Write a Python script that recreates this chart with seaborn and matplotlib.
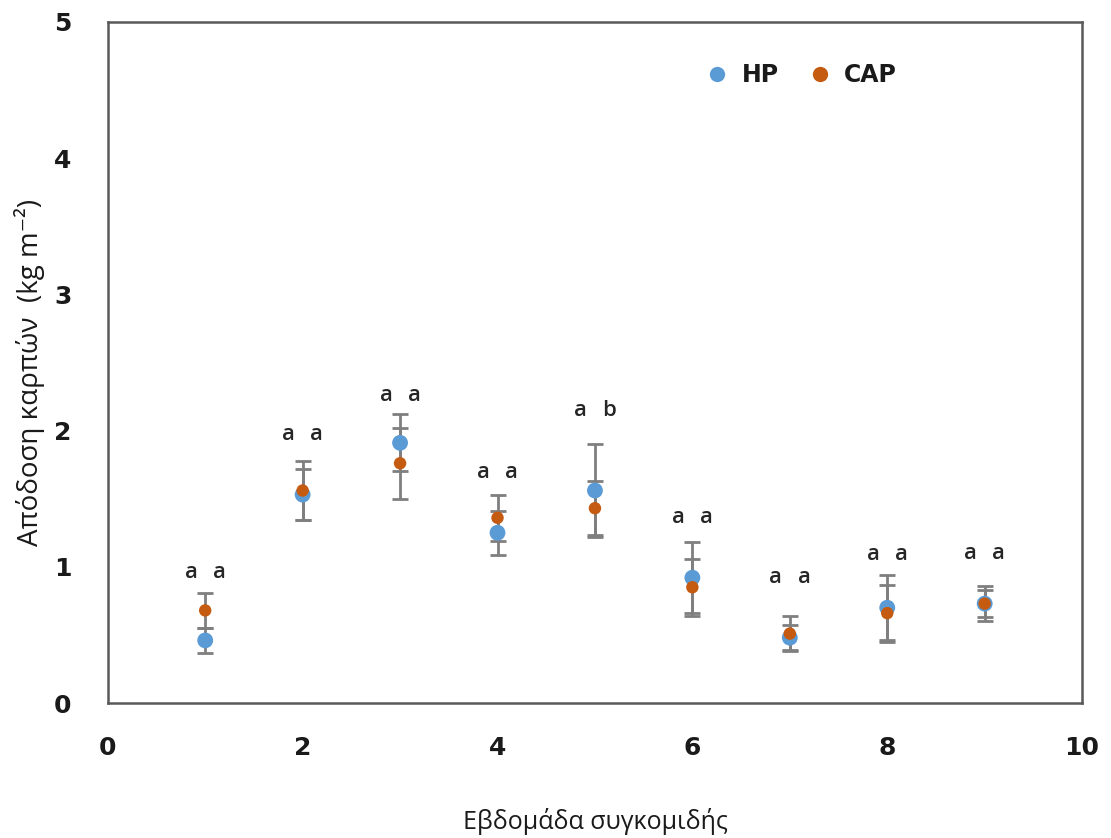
import numpy as np
import pandas as pd
import seaborn as sns
import matplotlib
matplotlib.use("Agg")
import matplotlib.pyplot as plt
from matplotlib.lines import Line2D

# ---- data ----
weeks = [1, 2, 3, 4, 5, 6, 7, 8, 9]
hp_mean = [0.46, 1.53, 1.91, 1.25, 1.56, 0.92, 0.48, 0.70, 0.73]
hp_err = [0.09, 0.19, 0.21, 0.16, 0.34, 0.26, 0.09, 0.24, 0.13]
cap_mean = [0.68, 1.56, 1.76, 1.36, 1.43, 0.85, 0.51, 0.66, 0.73]
cap_err = [0.13, 0.22, 0.26, 0.17, 0.20, 0.21, 0.13, 0.21, 0.10]
letters_hp = ["a", "a", "a", "a", "a", "a", "a", "a", "a"]
letters_cap = ["a", "a", "a", "a", "b", "a", "a", "a", "a"]
letter_y = [0.96, 1.97, 2.26, 1.69, 2.15, 1.36, 0.92, 1.09, 1.10]
series_names = ["HP", "CAP"]
x_ticks = [0, 2, 4, 6, 8, 10]
y_ticks = [0, 1, 2, 3, 4, 5]
xlabel = "Εβδομάδα συγκομιδής"
ylabel = "Απόδοση καρπών  (kg m⁻²)"

colors = {"HP": "#5B9BD5", "CAP": "#C55A11"}
sizes = {"HP": 130, "CAP": 80}

df = pd.DataFrame({
    "week": weeks * 2,
    "yield": hp_mean + cap_mean,
    "err": hp_err + cap_err,
    "treatment": ["HP"] * len(weeks) + ["CAP"] * len(weeks),
})

sns.set_style("white")
plt.rcParams["font.family"] = ["DejaVu Sans"]

fig = plt.figure(figsize=(11.11, 8.38), dpi=100)
ax = fig.add_axes([0.097, 0.161, 0.877, 0.813])

# error bars
for name in series_names:
    sub = df[df["treatment"] == name]
    ax.errorbar(sub["week"], sub["yield"], yerr=sub["err"], fmt="none",
                ecolor="#7F7F7F", elinewidth=2, capsize=6, capthick=2, zorder=2)

# points
for name in series_names:
    sub = df[df["treatment"] == name]
    sns.scatterplot(data=sub, x="week", y="yield", color=colors[name],
                    s=sizes[name], edgecolor="none", ax=ax, legend=False, zorder=3)

# significance letters
for w, la, lb, ly in zip(weeks, letters_hp, letters_cap, letter_y):
    for dx, lt in ((-0.145, la), (0.145, lb)):
        ax.text(w + dx, ly, lt, ha="center", va="center", fontsize=16,
                fontweight="semibold", color="#262626",
                family=["Open Sans", "DejaVu Sans"])

ax.set_xlim(0, 10)
ax.set_ylim(0, 5)
ax.set_xticks(x_ticks)
ax.set_yticks(y_ticks)
ax.set_xticklabels([str(t) for t in x_ticks], fontsize=18, fontweight="bold", color="#1a1a1a")
ax.set_yticklabels([str(t) for t in y_ticks], fontsize=18, fontweight="bold", color="#1a1a1a")
ax.tick_params(axis="x", length=0, pad=24)
ax.tick_params(axis="y", length=0, pad=26)

ax.set_xlabel(xlabel, fontsize=18, color="#1a1a1a", labelpad=34,
              family=["Open Sans", "DejaVu Sans"])
ax.set_ylabel(ylabel, fontsize=20, color="#1a1a1a",
              family=["Liberation Sans Narrow", "Open Sans", "DejaVu Sans"])
ax.yaxis.set_label_coords(-0.064, 0.485)

for sp in ax.spines.values():
    sp.set_visible(True)
    sp.set_color("#595959")
    sp.set_linewidth(1.8)

handles = [Line2D([0], [0], marker="o", linestyle="none", markerfacecolor=colors[n],
                  markeredgecolor="none", markersize=11) for n in series_names]
leg = ax.legend(handles, series_names, loc="upper right", bbox_to_anchor=(0.832, 0.97),
                ncol=2, frameon=False, handletextpad=0.05, columnspacing=0.7,
                prop={"size": 17, "weight": "bold"})
for t in leg.get_texts():
    t.set_color("#1a1a1a")

fig.savefig("out.png", dpi=100)
